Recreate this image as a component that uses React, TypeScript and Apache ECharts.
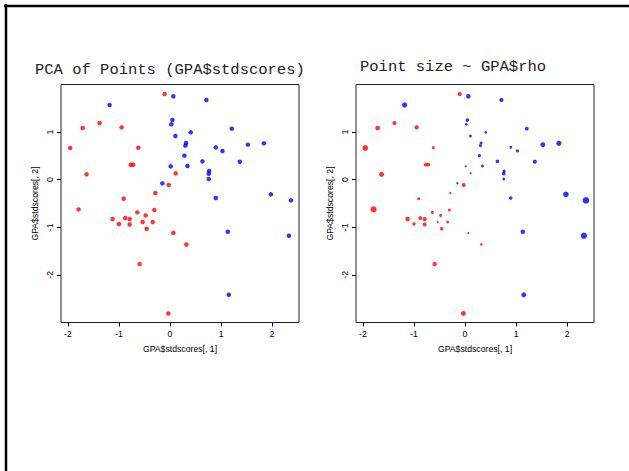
import React, { useEffect, useRef } from "react";
import * as echarts from "echarts";

const redX = [-0.105, -1.71, -1.38, -0.948, -1.954, -0.62, -0.77, -0.72, -1.634, 0.111, -0.026, -0.288, -0.908, -1.79, -0.64, -0.307, -0.477, -1.124, -0.876, -0.79, -1.0, -0.79, -0.536, -0.34, -0.457, 0.065, 0.32, -0.595, -0.033];
const redY = [1.8, 1.086, 1.19, 1.1, 0.666, 0.673, 0.315, 0.315, 0.112, 0.133, -0.112, -0.28, -0.4, -0.624, -0.687, -0.638, -0.75, -0.827, -0.806, -0.827, -0.932, -0.94, -0.89, -0.89, -1.03, -1.12, -1.36, -1.773, -2.81];
const redRho = [4.2, 4.7, 4.2, 4.2, 5.7, 3, 3.7, 3.7, 5, 2.3, 3.9, 2.3, 3, 6.2, 3, 3, 3, 4.5, 3.9, 4.2, 3.4, 3.9, 2.3, 3, 3.4, 2.1, 2.6, 4.4, 4.9];

const blueX = [-1.183, 0.065, 0.712, 0.046, 0.026, 0.405, 1.209, 0.105, 0.314, 0.3, 0.895, 1.026, 1.523, 1.837, 0.281, 0.634, 1.366, 0.013, 0.34, 0.765, 0.758, 0.758, -0.15, 0.895, 1.974, 2.366, 1.13, 2.327, 1.15];
const blueY = [1.57, 1.752, 1.675, 1.254, 1.163, 0.995, 1.072, 0.918, 0.771, 0.715, 0.68, 0.603, 0.736, 0.764, 0.505, 0.385, 0.378, 0.28, 0.287, 0.182, 0.126, 0.014, -0.077, -0.385, -0.308, -0.434, -1.093, -1.177, -2.418];
const blueRho = [5.2, 4.5, 4.2, 3.7, 2.8, 2.8, 3.9, 2.8, 3, 3, 2.8, 3.2, 4.9, 5.2, 3.2, 3.7, 4.2, 2.2, 2.8, 3.2, 3.7, 2.8, 2.3, 3.5, 5.7, 6.7, 4.5, 6.2, 4.9];

const xTicks = [-2, -1, 0, 1, 2];
const yTicks = [-2, -1, 0, 1];
const titles = ["PCA of Points (GPA$stdscores)", "Point size ~ GPA$rho"];
const xLabel = "GPA$stdscores[, 1]";
const yLabel = "GPA$stdscores[, 2]";

const SANS = "Liberation Sans, Arial, sans-serif";
const MONO = "Liberation Mono, Courier New, monospace";

function makeX(gridIndex: number) {
  return {
    type: "value",
    gridIndex,
    min: -2.134,
    max: 2.524,
    axisLine: { show: false, onZero: false },
    axisTick: { show: true, length: 4, customValues: xTicks, lineStyle: { color: "#000", width: 1 } },
    axisLabel: { customValues: xTicks, margin: 7, fontSize: 8.7, fontFamily: SANS, color: "#000" },
    splitLine: { show: false },
    name: xLabel,
    nameLocation: "middle",
    nameGap: 22,
    nameTextStyle: { fontSize: 8.7, fontFamily: SANS, color: "#000" },
  };
}

function makeY(gridIndex: number) {
  return {
    type: "value",
    gridIndex,
    min: -3,
    max: 2,
    axisLine: { show: false, onZero: false },
    axisTick: { show: true, length: 4, customValues: yTicks, lineStyle: { color: "#000", width: 1 } },
    axisLabel: { customValues: yTicks, rotate: 90, margin: 7, fontSize: 8.7, fontFamily: SANS, color: "#000" },
    splitLine: { show: false },
    name: yLabel,
    nameLocation: "middle",
    nameGap: 22,
    nameTextStyle: { fontSize: 8.7, fontFamily: SANS, color: "#000" },
  };
}

export default function App() {
  const ref = useRef<HTMLDivElement>(null);
  useEffect(() => {
    if (!ref.current) return;
    const chart = echarts.init(ref.current, null, { renderer: "svg" });
    const gridBase = { top: 84.5, width: 238, height: 238, show: true, borderColor: "#222", borderWidth: 1, backgroundColor: "transparent" };
    chart.setOption({
      animation: false,
      backgroundColor: "#fff",
      title: [
        { text: titles[0], left: 35, top: 62, padding: 0, textStyle: { fontFamily: MONO, fontSize: 15.5, fontWeight: "normal", color: "#222" } },
        { text: titles[1], left: 360, top: 59, padding: 0, textStyle: { fontFamily: MONO, fontSize: 15.5, fontWeight: "normal", color: "#222" } },
      ],
      grid: [
        { ...gridBase, left: 61 },
        { ...gridBase, left: 356 },
      ],
      xAxis: [makeX(0), makeX(1)],
      yAxis: [makeY(0), makeY(1)],
      series: [
        { type: "scatter", xAxisIndex: 0, yAxisIndex: 0, symbol: "circle", symbolSize: 4.5, itemStyle: { color: "#ff0000" }, data: redX.map((x, i) => [x, redY[i]]) },
        { type: "scatter", xAxisIndex: 0, yAxisIndex: 0, symbol: "circle", symbolSize: 4.5, itemStyle: { color: "#0000ff" }, data: blueX.map((x, i) => [x, blueY[i]]) },
        { type: "scatter", xAxisIndex: 1, yAxisIndex: 1, symbol: "circle", symbolSize: (v: number[]) => v[2], itemStyle: { color: "#ff0000" }, data: redX.map((x, i) => [x, redY[i], redRho[i]]) },
        { type: "scatter", xAxisIndex: 1, yAxisIndex: 1, symbol: "circle", symbolSize: (v: number[]) => v[2], itemStyle: { color: "#0000ff" }, data: blueX.map((x, i) => [x, blueY[i], blueRho[i]]) },
      ],
      graphic: [
        { type: "line", shape: { x1: 4, y1: 6, x2: 629, y2: 6 }, style: { stroke: "#000", lineWidth: 2.5 } },
        { type: "line", shape: { x1: 6, y1: 4, x2: 6, y2: 471 }, style: { stroke: "#000", lineWidth: 2.5 } },
      ],
    });
    return () => chart.dispose();
  }, []);
  return <div ref={ref} style={{ position: "absolute", left: 0, top: 0, width: 629, height: 471 }} />;
}
